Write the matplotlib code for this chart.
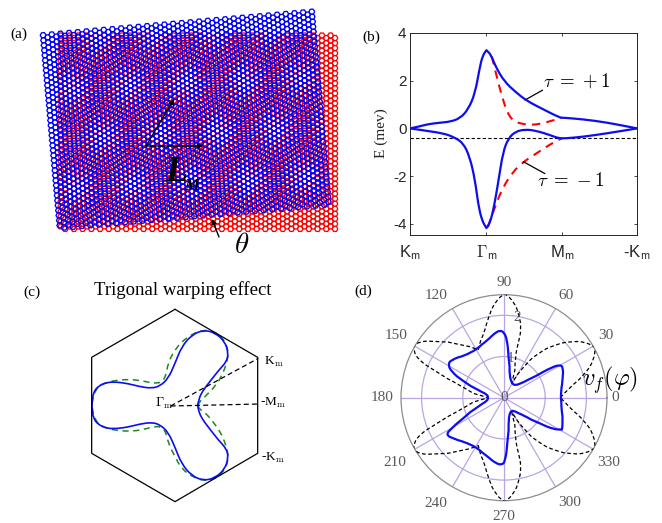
import numpy as np
import matplotlib
matplotlib.use("Agg")
import matplotlib.pyplot as plt
from matplotlib.collections import LineCollection
from matplotlib.patches import PathPatch
from matplotlib.path import Path

plt.rcParams['font.family'] = ['Liberation Serif', 'DejaVu Sans']
plt.rcParams['mathtext.fontset'] = 'cm'
plt.rcParams['axes.unicode_minus'] = False

W, H = 662, 523
BLUE = (0.05, 0.05, 0.95)

# (a) moire lattice, pixel-like units
lat_side = 2.9
lat_red = dict(x0=58, y0=33, ncols=64, nrows=39, angle=0.0)
lat_blue = dict(x0=40, y0=33, ncols=63, nrows=39, angle=5.0)

# (b) band structure
b_ticks = [0, 1.01, 2.01, 3]
b_ticklabels = ['K$_{\\mathsf{m}}$', '$\\Gamma_{\\mathsf{m}}$', 'M$_{\\mathsf{m}}$', '-K$_{\\mathsf{m}}$']
up_x = [0, .11, .24, .40, .53, .66, .77, .86, .92, .96, 1.01, 1.07, 1.14, 1.25, 1.39, 1.54, 1.76, 1.98, 2.02, 2.29, 2.60, 3]
up_y = [0, .07, .18, .24, .28, .42, .80, 1.47, 2.53, 3.05, 3.28, 3.09, 2.53, 1.96, 1.54, 1.16, .80, .45, .45, .38, .25, 0]
lo_x = [0, .22, .44, .57, .70, .79, .86, .90, .95, 1.01, 1.06, 1.11, 1.17, 1.23, 1.30, 1.39, 1.52, 1.67, 1.85, 1.96, 2.05, 2.29, 2.60, 3]
lo_y = [0, -.10, -.21, -.35, -.60, -1.19, -2.18, -3.16, -3.86, -4.18, -3.93, -3.30, -2.18, -.98, -.42, -.14, -.04, -.10, -.28, -.41, -.42, -.35, -.21, 0]
red_up_x = [1.08, 1.14, 1.21, 1.28, 1.36, 1.50, 1.63, 1.80, 2.01]
red_up_y = [3.02, 2.25, 1.40, .70, .31, .17, .14, .25, .45]
red_lo_x = [1.03, 1.12, 1.23, 1.36, 1.50, 1.67, 1.85, 2.01]
red_lo_y = [-4.14, -3.30, -2.46, -1.82, -1.40, -1.05, -.67, -.41]
fermi = -0.42

# (c) Fermi contours, read in units of a 990x735 box
hex_x = [525, 773, 773, 525, 275, 275, 525]
hex_y = [103, 247, 535, 680, 535, 247, 103]
fs_blue_x = [593, 597, 607, 620, 655, 680, 685, 675, 645, 610, 575, 545, 525, 505, 480, 455, 420, 385, 350, 320, 295, 280, 276,
             276, 280, 295, 320, 350, 385, 420, 455, 480, 505, 525, 545, 575, 610, 645, 675, 685, 680, 655, 620, 607, 597, 593]
fs_blue_y = [391, 370, 350, 332, 287, 260, 235, 200, 173, 165, 180, 215, 265, 310, 333, 340, 335, 326, 321, 322, 333, 352, 385,
             400, 430, 449, 460, 461, 456, 447, 442, 449, 472, 517, 567, 602, 617, 609, 582, 547, 522, 495, 450, 432, 412, 391]
fs_green_x = [593, 600, 615, 645, 670, 685, 683, 670, 640, 610, 580, 545, 525, 505, 495, 470, 430, 390, 345, 310, 285, 276,
              276, 285, 310, 345, 390, 430, 470, 495, 505, 525, 545, 580, 610, 640, 670, 683, 685, 670, 645, 615, 600, 593]
fs_green_y = [391, 378, 365, 335, 295, 245, 220, 190, 168, 165, 175, 200, 225, 260, 315, 327, 318, 313, 316, 325, 345, 380,
              400, 437, 457, 466, 469, 464, 452, 462, 505, 545, 582, 607, 617, 614, 592, 562, 537, 487, 447, 412, 404, 391]
gamma_pt = (512, 393)
k_pt = (775, 250)
m_pt = (780, 387)

# (d) polar curves as (dx, dy) from the centre, r = 1 is 123 units
r_unit = 123.0
vf_x = [170, 170, 175, 176, 168, 143, 93, 53, 33, 23, 16, 13, 9, 0, -12, -27, -47, -82, -117, -157, -167, -157, -122, -77, -50, -47,
        -50, -77, -122, -162, -170, -166, -157, -117, -82, -47, -22, -7, 3, 10, 13, 18, 28, 58, 108, 148, 173, 175, 171, 170]
vf_y = [0, 23, 58, 91, 98, 91, 63, 43, 36, 43, 63, 123, 173, 195, 201, 193, 173, 143, 125, 113, 100, 78, 50, 23, 10, 0,
        -10, -27, -62, -97, -107, -115, -119, -132, -147, -177, -197, -200, -192, -132, -62, -42, -37, -52, -77, -94, -95, -77, -32, 0]
dash_x = [168, 198, 243, 268, 272, 243, 203, 153, 103, 63, 23, 33, 45, 51, 45, 28, 3, -22, -47, -57, -77, -130, -207, -252, -270, -262, -202, -132, -47,
          -132, -202, -262, -270, -252, -207, -130, -77, -57, -47, -22, 3, 28, 45, 51, 45, 33, 23, 63, 103, 153, 203, 243, 272, 268, 243, 198, 168]
dash_y = [0, 33, 73, 113, 150, 166, 168, 158, 133, 98, 43, 123, 173, 203, 248, 288, 310, 293, 238, 198, 143, 158, 168, 168, 153, 118, 78, 38, 0,
          -38, -78, -118, -153, -168, -168, -158, -143, -198, -238, -293, -310, -288, -248, -203, -173, -123, -43, -98, -133, -158, -168, -166, -150, -113, -73, -33, 0]
polar_angles = [0, 30, 60, 90, 120, 150, 180, 210, 240, 270, 300, 330]
polar_rings = [1, 2]
polar_lab_x = [333, 303, 185, 0, -204, -322, -365, -325, -205, 0, 195, 312]
polar_lab_y = [0, 186, 305, 345, 305, 185, 0, -192, -315, -355, -313, -192]


def px_axes(fig, x, y, w, h, **kw):
    return fig.add_axes([x / W, 1 - (y + h) / H, w / W, h / H], **kw)


def hex_cells(x0, y0, ncols, nrows, angle):
    # flat-top hexagons, every second column shifted half a cell down
    a = np.radians(angle)
    t = np.radians(np.arange(0, 420, 60))
    vx = lat_side * np.cos(t)
    vy = lat_side * np.sin(t)
    dy = np.sqrt(3) * lat_side
    cells = []
    for i in range(ncols):
        for j in range(nrows):
            u = lat_side + i * 1.5 * lat_side + vx
            v = dy / 2 + j * dy + (i % 2) * dy / 2 + vy
            cells.append(np.column_stack([x0 + u * np.cos(a) + v * np.sin(a),
                                          y0 - u * np.sin(a) + v * np.cos(a)]))
    return cells


def curve(ax, x, y, **kw):
    # readings used as quadratic spline control points, sharp turns stay corners
    pts = np.column_stack([x, y]).astype(float)
    verts = [pts[0]]
    codes = [Path.MOVETO]
    for i in range(1, len(pts) - 1):
        a = pts[i] - pts[i - 1]
        b = pts[i + 1] - pts[i]
        turn = abs(np.arctan2(a[0] * b[1] - a[1] * b[0], a @ b))
        code = Path.LINETO if turn > np.radians(80) else Path.CURVE3
        verts += [pts[i], (pts[i] + pts[i + 1]) / 2]
        codes += [code, code]
    verts.append(pts[-1])
    codes.append(Path.LINETO)
    ax.add_patch(PathPatch(Path(verts, codes), fill=False, joinstyle='round', **kw))


def polar_curve(ax, x, y, **kw):
    # theta has to be continuous or the spline midpoints jump across the plot
    theta = np.unwrap(np.arctan2(y, x))
    curve(ax, theta, np.hypot(x, y) / r_unit, **kw)


fig = plt.figure(figsize=(W / 100, H / 100), dpi=100)
fig.patch.set_facecolor('white')

# (a)
ax = px_axes(fig, 0, 0, 350, 270)
ax.set_xlim(0, 350)
ax.set_ylim(270, 0)
ax.set_axis_off()
ax.add_collection(LineCollection(hex_cells(**lat_red), colors=(1, 0, 0), linewidths=0.95))
ax.add_collection(LineCollection(hex_cells(**lat_blue), colors=(0, 0, 1), linewidths=0.95))
arrow = dict(arrowstyle='-|>,head_width=0.14,head_length=0.28', color='k', lw=1.0, shrinkA=0, shrinkB=0)
ax.annotate('', xy=(203, 146), xytext=(146, 146), arrowprops=arrow)
ax.annotate('', xy=(174, 99), xytext=(146, 146), arrowprops=arrow)
ax.annotate('', xy=(212, 219), xytext=(219, 237), arrowprops=arrow)
ax.text(165, 181, 'L', fontsize=26, style='italic', weight='bold', color='k', va='baseline')
ax.text(184, 190, 'M', fontsize=12, style='italic', weight='bold', color='k', va='baseline')
ax.text(242, 246, r'$\theta$', fontsize=21, ha='center', va='center')

# (b)
ax = px_axes(fig, 410, 33, 227, 202)
curve(ax, up_x, up_y, ec=BLUE, lw=1.6, zorder=3)
curve(ax, lo_x, lo_y, ec=BLUE, lw=1.6, zorder=3)
curve(ax, red_up_x, red_up_y, ec='r', ls=(0, (4, 3)), lw=1.5)
curve(ax, red_lo_x, red_lo_y, ec='r', ls=(0, (4, 3)), lw=1.5)
ax.plot([0, 3], [fermi, fermi], color='k', ls=(0, (3, 2)), lw=0.8)
ax.plot([1.52, 1.75], [1.19, 1.6], color='k', lw=0.9)
ax.plot([1.50, 1.78], [-1.40, -1.89], color='k', lw=0.9)
ax.text(2.2, 1.96, r'$\tau\;=\,+1$', fontsize=13.5, ha='center', va='center')
ax.text(2.13, -2.2, r'$\tau\;=\,-1$', fontsize=13.5, ha='center', va='center')
ax.set_xlim(0, 3)
ax.set_ylim(-4.47, 4)
ax.set_xticks(b_ticks)
ax.set_xticklabels(b_ticklabels, family='Liberation Sans', fontsize=12, color='0.15')
ax.set_yticks([-4, -2, 0, 2, 4])
ax.set_yticklabels(['-4', '-2', '0', '2', '4'], family='Liberation Sans', fontsize=11, color='0.15')
ax.tick_params(direction='in', top=True, right=True, length=2.5, width=0.6, color='0.15', pad=2.5)
ax.tick_params(axis='x', pad=6)
ax.set_ylabel('E (mev)', fontsize=11, color='0.15')
ax.yaxis.set_label_coords(-22 / 227, 0.505)
for s in ax.spines.values():
    s.set_linewidth(0.7)
    s.set_color('0.15')

# (c)
ax = px_axes(fig, 0, 275, 330, 245)
ax.set_xlim(0, 990)
ax.set_ylim(735, 0)
ax.set_axis_off()
ax.plot(hex_x, hex_y, color='k', lw=0.9)
ax.plot([gamma_pt[0], k_pt[0]], [gamma_pt[1], k_pt[1]], color='k', ls=(0, (4, 2.5)), lw=0.9)
ax.plot([gamma_pt[0], m_pt[0]], [gamma_pt[1], m_pt[1]], color='k', ls=(0, (4, 2.5)), lw=0.9)
curve(ax, fs_green_x, fs_green_y, ec='#1a8a1a', ls=(0, (4, 3)), lw=1.1)
curve(ax, fs_blue_x, fs_blue_y, ec=BLUE, lw=1.2)
ax.text(548, 45, 'Trigonal warping effect', fontsize=13.5, ha='center', va='center')
ax.text(793, 268, 'K$_{\\mathrm{m}}$', fontsize=9.5, ha='left', va='baseline')
ax.text(465, 395, '$\\Gamma_{\\mathrm{m}}$', fontsize=9.5, ha='left', va='baseline')
ax.text(780, 393, '-M$_{\\mathrm{m}}$', fontsize=9.5, ha='left', va='baseline')
ax.text(783, 558, '-K$_{\\mathrm{m}}$', fontsize=9.5, ha='left', va='baseline')

# (d)
ax = px_axes(fig, 401, 294.7, 206, 206, projection='polar')
ax.set_ylim(0, 2.5)
ax.set_thetagrids(polar_angles, labels=[])
ax.set_rgrids(polar_rings, labels=[])
ax.grid(color='#b9a5e3', lw=0.9)
ax.spines['polar'].set_color('0.55')
ax.spines['polar'].set_linewidth(0.9)
polar_curve(ax, dash_x, dash_y, ec='k', ls=(0, (3, 2)), lw=0.9, zorder=3)
polar_curve(ax, vf_x, vf_y, ec=BLUE, lw=1.6, zorder=4)
gray = dict(fontsize=11, color='0.35', ha='center', va='center', clip_on=False)
for a, lx, ly in zip(polar_angles, polar_lab_x, polar_lab_y):
    ax.text(np.arctan2(ly, lx), np.hypot(lx, ly) / r_unit, str(a), **gray)
ax.text(0, 0, '0', zorder=5, **gray)
ax.text(np.radians(80.2), 0.96, '1', zorder=5, **gray)
ax.text(np.radians(80.6), 1.98, '2', zorder=5, **gray)

# panel letters and the large label
for lab, x, y in [('(a)', 19, 34), ('(b)', 371, 37), ('(c)', 32, 292), ('(d)', 363, 291)]:
    fig.text(x / W, 1 - y / H, lab, fontsize=11, ha='center', va='center')
fig.text(610 / W, 1 - 380 / H, r'$v_f(\varphi)$', fontsize=17.5, ha='center', va='center')

fig.savefig('out.png', dpi=100)
